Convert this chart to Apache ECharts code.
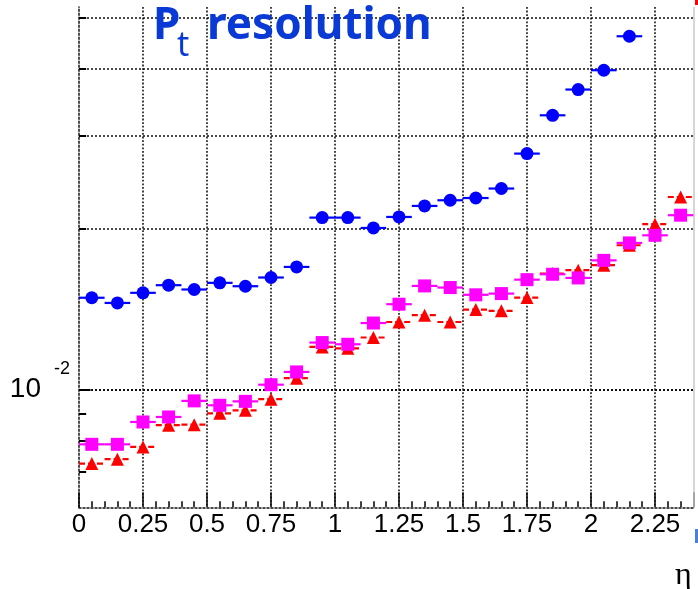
<!DOCTYPE html>
<html>
<head>
<meta charset="utf-8">
<script src="https://cdn.jsdelivr.net/npm/echarts@6/dist/echarts.min.js"></script>
<style>
  html, body { margin: 0; padding: 0; background: #ffffff; }
  #chart { width: 698px; height: 589px; }
</style>
</head>
<body>
<div id="chart"></div>
<script>
// Transverse-momentum resolution versus pseudorapidity, three track samples.
const etaCenters = [0.05, 0.15, 0.25, 0.35, 0.45, 0.55, 0.65, 0.75, 0.85, 0.95,
                    1.05, 1.15, 1.25, 1.35, 1.45, 1.55, 1.65, 1.75, 1.85, 1.95,
                    2.05, 2.15, 2.25, 2.35];
const binHalfWidth = 0.05;

const blueRes = [0.01486, 0.01453, 0.01518, 0.01569, 0.01540, 0.01585, 0.01562, 0.01622,
                 0.01698, 0.02102, 0.02102, 0.02010, 0.02108, 0.02211, 0.02266, 0.02288,
                 0.02384, 0.02773, 0.03273, 0.03659, 0.03978, 0.04608, null, null];
const magentaRes = [0.00788, 0.00788, 0.00868, 0.00887, 0.00951, 0.00933, 0.00949, 0.01020,
                    0.01078, 0.01224, 0.01215, 0.01332, 0.01445, 0.01564, 0.01553, 0.01505,
                    0.01513, 0.01607, 0.01645, 0.01619, 0.01747, 0.01884, 0.01947, 0.02124];
const redRes = [0.00725, 0.00739, 0.00779, 0.00856, 0.00858, 0.00901, 0.00913, 0.00958,
                0.01049, 0.01201, 0.01194, 0.01251, 0.01338, 0.01378, 0.01338, 0.01412,
                0.01404, 0.01487, 0.01650, 0.01674, 0.01711, 0.01865, 0.02043, 0.02298];

const xMajorTicks = [0, 0.25, 0.5, 0.75, 1, 1.25, 1.5, 1.75, 2, 2.25];
const xTickLabels = ['0', '0.25', '0.5', '0.75', '1', '1.25', '1.5', '1.75', '2', '2.25'];
const yGridValues = [0.007, 0.008, 0.009, 0.01, 0.02, 0.03, 0.04, 0.05];
const yDecade = 0.01;
const xMax = 2.4;
const yMin = 0.006;
const yMax = 0.0523;
// keeps the frame line strictly inside the axis range
const edgeInset = 1e-4;

const dotted = { color: '#111', width: 1.5, type: [2, 2] };

function points(values) {
  const out = [];
  values.forEach((v, i) => { if (v != null) out.push([etaCenters[i], v]); });
  return out;
}

// horizontal bin-width bars drawn through the axes
function binBars(values, color, dash, z) {
  return {
    type: 'custom',
    z: z,
    silent: true,
    data: points(values),
    renderItem: function (params, api) {
      const x = api.value(0), y = api.value(1);
      const a = api.coord([x - binHalfWidth, y]);
      const b = api.coord([x + binHalfWidth, y]);
      return {
        type: 'line',
        shape: { x1: a[0], y1: a[1], x2: b[0], y2: b[1] },
        style: { stroke: color, lineWidth: 2.2, lineDash: dash || null }
      };
    }
  };
}

function markers(values, symbol, size, color, z) {
  return {
    type: 'scatter',
    z: z,
    silent: true,
    symbol: symbol,
    symbolSize: size,
    itemStyle: { color: color, opacity: 1 },
    data: points(values)
  };
}

// vertical dotted grid at the major eta ticks, built from small dots
const verticalGrid = {
  type: 'custom',
  z: 1,
  silent: true,
  data: xMajorTicks.filter(v => v > 0).map(v => [v, yDecade]),
  renderItem: function (params, api) {
    const x = api.value(0);
    const bottom = api.coord([x, yMin]);
    const top = api.coord([x, yMax]);
    const children = [];
    for (let y = top[1]; y < bottom[1]; y += 3.6) {
      children.push({
        type: 'rect',
        shape: { x: bottom[0] - 0.8, y: y, width: 1.6, height: 1.8 },
        style: { fill: '#111' }
      });
    }
    return { type: 'group', children: children };
  }
};

// dotted horizontal grid and short solid ticks on the left axis
const hGrid = yGridValues.map(v => {
  const line = { yAxis: v, lineStyle: dotted };
  if (v === yDecade) {
    line.label = {
      show: true,
      position: 'start',
      distance: 9,
      formatter: '{b|10}{s|-2}',
      rich: {
        b: { fontSize: 28, fontFamily: 'Liberation Sans', color: '#000' },
        s: { fontSize: 18, fontFamily: 'Liberation Sans', color: '#000', padding: [0, 0, 40, 13] }
      }
    };
  }
  return line;
});
const rightFrame = [
  { coord: [xMax - edgeInset, yMin * (1 + edgeInset)],
    lineStyle: { color: '#c8c8c8', width: 1.5, type: 'solid' } },
  { coord: [xMax - edgeInset, yMax * (1 - edgeInset)] }
];
const leftTicks = yGridValues.map(v => [
  { coord: [0, v], lineStyle: { color: '#000', width: 2, type: 'solid' } },
  { coord: [v === yDecade ? 0.045 : 0.028, v] }
]);

const chart = echarts.init(document.getElementById('chart'), null, { renderer: 'canvas' });

chart.setOption({
  animation: false,
  backgroundColor: '#ffffff',
  grid: { left: 79, right: 4.6, top: 7, bottom: 81.7, containLabel: false },
  xAxis: [
    {
      type: 'value', min: 0, max: xMax, interval: 0.25, position: 'bottom',
      axisLine: { show: true, lineStyle: dotted },
      axisTick: { show: true, inside: true, length: 15, lineStyle: { color: '#000', width: 1.5 } },
      axisLabel: {
        show: true, margin: 5, color: '#000', fontSize: 26, fontFamily: 'Liberation Sans',
        formatter: function (v) {
          const i = xMajorTicks.findIndex(t => Math.abs(t - v) < 1e-6);
          return i >= 0 ? xTickLabels[i] : '';
        }
      },
      splitLine: { show: false }
    },
    {
      type: 'value', min: 0, max: xMax, interval: 0.05, position: 'bottom',
      axisLine: { show: false },
      axisTick: { show: true, inside: true, length: 6, lineStyle: { color: '#000', width: 1.5 } },
      axisLabel: { show: false },
      splitLine: { show: false }
    }
  ],
  yAxis: {
    type: 'log', logBase: 10, min: yMin, max: yMax,
    axisLine: { show: true, lineStyle: dotted },
    axisTick: { show: false },
    axisLabel: { show: false },
    splitLine: { show: false }
  },
  graphic: [
    {
      type: 'text', left: 153, top: 4, z: 10,
      style: { text: 'P', font: 'bold 44px "Comic Sans MS", "Noto Sans"', fill: '#0a3ad6',
               textShadowColor: 'rgba(120,120,120,0.6)', textShadowOffsetX: 2, textShadowOffsetY: 2 }
    },
    {
      type: 'text', left: 177, top: 29, z: 10,
      style: { text: 't', font: '34px "Comic Sans MS", "Noto Sans"', fill: '#0a3ad6',
               textShadowColor: 'rgba(120,120,120,0.6)', textShadowOffsetX: 2, textShadowOffsetY: 2 }
    },
    {
      type: 'text', left: 207, top: 4, z: 10,
      style: { text: 'resolution', font: 'bold 44px "Comic Sans MS", "Noto Sans"', fill: '#0a3ad6',
               textShadowColor: 'rgba(120,120,120,0.6)', textShadowOffsetX: 2, textShadowOffsetY: 2 }
    },
    {
      type: 'text', left: 675, top: 560, z: 10,
      style: { text: 'η', font: '32px "Liberation Serif"', fill: '#000' }
    },
    {
      type: 'rect', left: 695, top: 529, z: 10,
      shape: { width: 3, height: 14 }, style: { fill: '#4a7ee0' }
    },
    {
      type: 'rect', left: 695, top: 0, z: 10,
      shape: { width: 3, height: 5 }, style: { fill: '#ff0000' }
    }
  ],
  series: [
    verticalGrid,
    Object.assign(binBars(blueRes, '#0000ff', null, 2), {
      markLine: {
        silent: true, symbol: 'none', z: 1, animation: false,
        label: { show: false },
        data: hGrid.concat(leftTicks).concat([rightFrame])
      }
    }),
    markers(blueRes, 'circle', 13, '#0000ff', 3),
    binBars(redRes, '#ff0000', [6, 3], 4),
    markers(redRes, 'triangle', 13, '#ff0000', 5),
    binBars(magentaRes, '#ff00ff', null, 6),
    markers(magentaRes, 'rect', 13, '#ff00ff', 7)
  ]
});
</script>
</body>
</html>
